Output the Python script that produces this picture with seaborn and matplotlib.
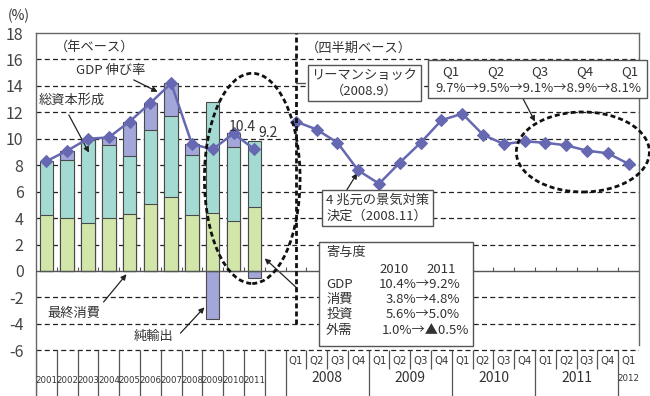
import numpy as np
import pandas as pd
import matplotlib
matplotlib.use("Agg")
import matplotlib.pyplot as plt
import seaborn as sns
from matplotlib import font_manager
from matplotlib.patches import Ellipse, Rectangle

# ---- data -------------------------------------------------------------
years = ["2001", "2002", "2003", "2004", "2005", "2006",
         "2007", "2008", "2009", "2010", "2011"]
consumption = [4.2, 4.0, 3.6, 4.0, 4.3, 5.1, 5.6, 4.2, 4.4, 3.8, 4.8]
investment = [4.1, 4.4, 6.3, 5.5, 4.4, 5.6, 6.1, 4.6, 8.4, 5.6, 5.0]
net_exports = [0.0, 0.7, 0.1, 0.6, 2.6, 2.0, 2.5, 0.8, -3.6, 1.0, -0.5]
gdp_annual = [8.3, 9.1, 10.0, 10.1, 11.3, 12.7, 14.2, 9.6, 9.2, 10.4, 9.2]

quarter_years = ["2008", "2009", "2010", "2011", "2012"]
quarters = ["Q1", "Q2", "Q3", "Q4"]
gdp_quarterly = [11.3, 10.7, 9.7, 7.6, 6.6, 8.2, 9.7, 11.4, 11.9,
                 10.3, 9.6, 9.8, 9.7, 9.5, 9.1, 8.9, 8.1]

# ---- style ------------------------------------------------------------
sns.set_style("white")
plt.rcParams["font.family"] = ["Noto Sans CJK JP", "DejaVu Sans"]

# a narrow face for the crowded category strip, if one is installed
_fonts = font_manager.fontManager.ttflist
_names = {f.name for f in _fonts}
if "Liberation Sans Narrow" in _names:
    NARROW = dict(family="Liberation Sans Narrow")
    narrow_scale = 1.0
elif any(f.name == "DejaVu Sans" and "condensed" in str(f.stretch).lower()
         for f in _fonts):
    NARROW = dict(family="DejaVu Sans", fontstretch="condensed")
    narrow_scale = 0.85
else:
    NARROW = dict(family="Noto Sans CJK JP")
    narrow_scale = 0.78

C_GREEN = "#d2e6aa"
C_TEAL = "#a3dbd3"
C_PURPLE = "#a3a6d9"
C_LINE = "#6668b2"
C_EDGE = "#4a4a4a"
C_TEXT = "#333333"

fig = plt.figure(figsize=(6.5, 3.96), dpi=100)
ax = fig.add_axes([36 / 650, 0.0, 603 / 650, 1 - 33 / 396])

n_years = len(years)
x_year = np.arange(n_years)
x_q = np.arange(len(gdp_quarterly)) + n_years + 1

cons = np.array(consumption)
inv = np.array(investment)
nx = np.array(net_exports)
top_ci = cons + inv
purple_h = np.where(nx > 0, top_ci + nx, nx)

bar_kw = dict(native_scale=True, width=0.65, saturation=1,
              edgecolor=C_EDGE, linewidth=0.8, ax=ax, errorbar=None)
df = pd.DataFrame({"x": x_year, "nx": purple_h, "ci": top_ci, "c": cons})
sns.barplot(data=df, x="x", y="nx", color=C_PURPLE, zorder=2, **bar_kw)
sns.barplot(data=df, x="x", y="ci", color=C_TEAL, zorder=3, **bar_kw)
sns.barplot(data=df, x="x", y="c", color=C_GREEN, zorder=4, **bar_kw)

line_kw = dict(color=C_LINE, linewidth=1.8, marker="D", markersize=6.5,
               markeredgecolor=C_LINE, ax=ax, zorder=6)
sns.lineplot(x=x_year, y=gdp_annual, **line_kw)
sns.lineplot(x=x_q, y=gdp_quarterly, **line_kw)

# ---- axes -------------------------------------------------------------
ax.set_xlim(-0.5, 28.5)
ax.set_ylim(-9.46, 18)
ax.set_xticks([])
ax.set_xlabel("")
ax.set_ylabel("")
ax.set_yticks(range(-6, 19, 2))
ax.set_yticklabels([str(v) for v in range(-6, 19, 2)])
ax.tick_params(axis="y", length=0, pad=9, labelsize=11.5, labelcolor="#444444")

for v in range(-6, 18, 2):
    if v != 0:
        ax.axhline(v, color="#222222", lw=0.9, ls=(0, (4.0, 2.6)), zorder=0.5)
ax.axhline(0, color="#555555", lw=1.0, zorder=5)
ax.vlines(np.arange(0.5, 28.5, 1), 0, 0.3, color="#555555", lw=0.8, zorder=5)

for s in ["left", "top", "right"]:
    ax.spines[s].set_color("#666666")
    ax.spines[s].set_linewidth(1.0)
ax.spines["right"].set_bounds(-5.6, 18)
ax.spines["bottom"].set_visible(False)

# ---- category strip under the plot -------------------------------------
strip_top, strip_bot = -6, -9.46
ax.vlines(np.arange(-0.5, 12, 1), strip_bot, strip_top, color="#555555", lw=0.9)
for b in np.arange(12.5, 28, 1):
    full = (b - 11.5) % 4 == 0
    ax.vlines(b, strip_bot if full else -7.4, strip_top, color="#555555", lw=0.9)

for i, yr in enumerate(years):
    ax.text(i, -8.3, yr, ha="center", va="center", fontsize=8 * narrow_scale,
            color=C_TEXT, **NARROW)
for j in range(len(gdp_quarterly)):
    ax.text(x_q[j], -6.85, quarters[j % 4], ha="center", va="center",
            fontsize=9.5 * narrow_scale, color=C_TEXT, **NARROW)
for k, yr in enumerate(quarter_years[:-1]):
    ax.text(x_q[0] + 4 * k + 1.5, -8.1, yr, ha="center", va="center",
            fontsize=10, color=C_TEXT)
ax.text(x_q[-1], -8.1, quarter_years[-1], ha="center", va="center",
        fontsize=8 * narrow_scale, color=C_TEXT, **NARROW)

# ---- annotations ------------------------------------------------------
fig.text(8 / 650, 1 - 16 / 396, "(%)", fontsize=10, color=C_TEXT, va="center")

txt = dict(color=C_TEXT, fontsize=9.5, va="center", clip_on=False, zorder=8)
arrow = dict(arrowstyle="-|>", color="#222222", lw=0.9, mutation_scale=8,
             shrinkA=0, shrinkB=0)

ax.text(0.4, 16.9, "（年ベース）", ha="left", **txt)
ax.text(1.4, 15.2, "GDP 伸び率", ha="left", **txt)
ax.annotate("", xy=(5.35, 13.55), xytext=(4.2, 14.45), arrowprops=arrow)
ax.text(-0.38, 12.9, "総資本形成", ha="left", **txt)
ax.annotate("", xy=(2.05, 8.95), xytext=(1.08, 11.8), arrowprops=arrow)
ax.text(0.05, -3.2, "最終消費", ha="left", **txt)
ax.annotate("", xy=(3.85, -0.25), xytext=(2.75, -2.35), arrowprops=arrow)
ax.text(4.2, -4.95, "純輸出", ha="left", **txt)
ax.annotate("", xy=(7.6, -2.75), xytext=(6.45, -4.7), arrowprops=arrow)

# value labels on the last two annual points
for xi, dx, dy in [(9, 6, 5), (10, 10, 12)]:
    ax.annotate(f"{gdp_annual[xi]:.1f}", xy=(xi, gdp_annual[xi]),
                xytext=(dx, dy), textcoords="offset points",
                ha="center", va="center", fontsize=10, color=C_TEXT, zorder=8)

thick = dict(color="#111111", lw=2.0, ls=(0, (1.8, 1.1)))
ax.add_patch(Ellipse((9.9, 7.0), 4.6, 15.9, fill=False, zorder=7, **thick))
ax.vlines(x_q[0], -4, 18, zorder=7, **thick)
ax.annotate("", xy=(10.5, 0.95), xytext=(12.05, -1.3), arrowprops=arrow)

ax.text(12.5, 16.85, "（四半期ベース）", ha="left", **txt)

box = dict(boxstyle="square,pad=0.3", fc="white", ec="#555555", lw=1.0)
ax.text(15.3, 14.2, "リーマンショック\n（2008.9）", ha="center",
        linespacing=1.25, bbox=box, **txt)
ax.plot([x_q[0], 12.45], [14.2, 14.2], color="#555555", lw=1.0, zorder=7)

# quarterly summary box
ax.add_patch(Rectangle((18.35, 13.1), 10.55, 2.87, fc="white", ec="#555555",
                       lw=1.0, zorder=7, clip_on=False))
last5 = gdp_quarterly[-5:]
q_names = ["Q1", "Q2", "Q3", "Q4", "Q1"]
for k, q in enumerate(q_names):
    ax.text(19.45 + 2.15 * k, 15.1, q, ha="center", **txt)
ax.text(23.65, 13.8, "→".join(f"{v:.1f}%" for v in last5), ha="center", **txt)
ax.annotate("", xy=(23.5, 11.3), xytext=(22.9, 13.1), arrowprops=arrow)
ax.add_patch(Ellipse((25.8, 9.0), 6.4, 6.05, fill=False, zorder=7,
                     clip_on=False, **thick))

# stimulus box
ax.text(13.45, 4.75, "4 兆元の景気対策\n決定（2008.11）", ha="left",
        linespacing=1.25, bbox=box, **txt)
ax.annotate("", xy=(14.95, 7.4), xytext=(14.2, 5.5), arrowprops=arrow)

# contribution box
ax.add_patch(Rectangle((13.1, -5.65), 7.4, 7.85, fc="white", ec="#555555",
                       lw=1.0, zorder=7))
ax.text(13.45, 1.4, "寄与度", ha="left", **txt)
ax.text(16.7, 0.1, years[-2], ha="center", **txt)
ax.text(19.0, 0.1, years[-1], ha="center", **txt)


def fmt(v):
    return f"{v:.1f}%" if v >= 0 else f"▲{abs(v):.1f}%"


rows = [("GDP", gdp_annual), ("消費", consumption),
        ("投資", investment), ("外需", net_exports)]
row_y = [-1.05, -2.15, -3.3, -4.5]
for (name, series), yy in zip(rows, row_y):
    ax.text(13.45, yy, name, ha="left", **txt)
    val = f"{fmt(series[-2])}→{fmt(series[-1])}"
    if series[-1] < 0:
        ax.text(16.15, yy, val, ha="left", **txt)
    else:
        ax.text(19.9, yy, val, ha="right", **txt)

fig.savefig("out.png", dpi=100)
